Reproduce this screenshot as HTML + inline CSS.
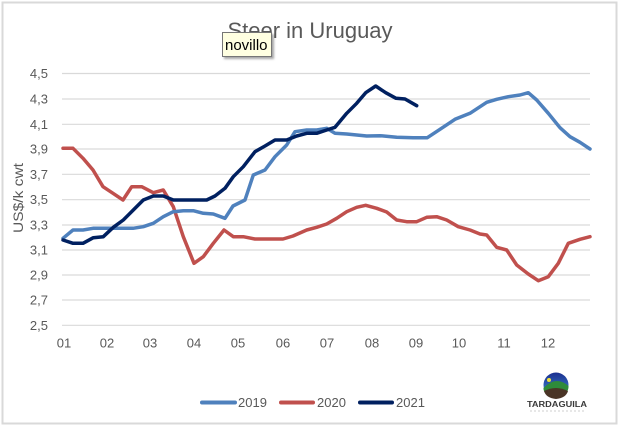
<!DOCTYPE html>
<html><head><meta charset="utf-8"><style>
html,body{margin:0;padding:0;background:#fff;}
svg{display:block;}
text{font-family:"Liberation Sans",Arial,sans-serif;}
</style></head><body>
<svg width="620" height="428" viewBox="0 0 620 428" xmlns="http://www.w3.org/2000/svg">
<defs>
<linearGradient id="sky" x1="0" y1="0" x2="0" y2="1">
<stop offset="0" stop-color="#1b2f8f"/><stop offset="1" stop-color="#3f8fd8"/>
</linearGradient>
<filter id="sh" x="-20%" y="-20%" width="150%" height="160%"><feDropShadow dx="2" dy="2" stdDeviation="1" flood-color="#000" flood-opacity="0.35"/></filter>
</defs>
<rect x="0" y="0" width="620" height="428" fill="#fff"/>
<rect x="2.5" y="2.5" width="614" height="421" fill="#fff" stroke="#d9d9d9" stroke-width="2"/>
<text x="310" y="38" text-anchor="middle" font-size="22" fill="#595959">Steer in Uruguay</text>
<g stroke="#d9d9d9" stroke-width="1.2">
<line x1="62" x2="590" y1="73.5" y2="73.5"/>
<line x1="62" x2="590" y1="99" y2="99"/>
<line x1="62" x2="590" y1="124.3" y2="124.3"/>
<line x1="62" x2="590" y1="149" y2="149"/>
<line x1="62" x2="590" y1="174.3" y2="174.3"/>
<line x1="62" x2="590" y1="199.7" y2="199.7"/>
<line x1="62" x2="590" y1="225" y2="225"/>
<line x1="62" x2="590" y1="250" y2="250"/>
<line x1="62" x2="590" y1="275" y2="275"/>
<line x1="62" x2="590" y1="300" y2="300"/>
<line x1="62" x2="590" y1="325.3" y2="325.3"/>
</g>
<g font-size="13" fill="#595959" text-anchor="end">
<text x="48" y="78">4,5</text>
<text x="48" y="103.5">4,3</text>
<text x="48" y="128.8">4,1</text>
<text x="48" y="153.5">3,9</text>
<text x="48" y="178.8">3,7</text>
<text x="48" y="204.2">3,5</text>
<text x="48" y="229.5">3,3</text>
<text x="48" y="254.5">3,1</text>
<text x="48" y="279.5">2,9</text>
<text x="48" y="304.5">2,7</text>
<text x="48" y="329.8">2,5</text>
</g>
<text transform="translate(23,198) rotate(-90)" text-anchor="middle" font-size="14" fill="#595959" textLength="70" lengthAdjust="spacingAndGlyphs">US$/k cwt</text>
<g font-size="13" fill="#595959" text-anchor="middle">
<text x="64" y="347.5">01</text>
<text x="107" y="347.5">02</text>
<text x="150" y="347.5">03</text>
<text x="194" y="347.5">04</text>
<text x="238" y="347.5">05</text>
<text x="283" y="347.5">06</text>
<text x="327" y="347.5">07</text>
<text x="372" y="347.5">08</text>
<text x="416" y="347.5">09</text>
<text x="459" y="347.5">10</text>
<text x="504" y="347.5">11</text>
<text x="548" y="347.5">12</text>
</g>
<g fill="none" stroke-width="3.5" stroke-linejoin="round" stroke-linecap="round">
<polyline stroke="#C0504D" points="63,148.3 73,148.3 83,158.3 93,170 103,186.7 113,193.3 123,200 131.7,186.7 141.7,186.7 153.3,192.7 163.3,190 173.3,206.7 183.3,236.7 194,263.3 203.3,256.7 213.3,243.3 224,230 233.3,236.7 243.3,236.7 255,239 283,239 293,236 306.7,230 316.7,227.3 326.7,224 336.7,218.3 346.7,211.7 356.7,207.3 365.7,205.3 376.7,208.3 386.7,212 396.7,220 406.7,221.7 416.7,221.7 426.7,217.3 436.7,216.7 446.7,220 458.3,226.7 470,230 480,234 486.7,235 496.7,247.3 506.7,250 516.7,265 528.3,274 538.3,280.7 548.3,276.7 558.3,263.3 568.3,243.3 580,239.3 590,236.7"/>
<polyline stroke="#4F81BD" points="63,238.3 73,230 83,230 93,228.3 133,228.3 143.3,226.7 153.3,223.3 163.3,216.7 173.3,211.7 183.3,210.7 193.3,210.7 203.3,213.3 213.3,214 225,218.3 233,206 245,200 253.3,175 265,170 275,156.7 286.7,145 295,131.7 306.7,130 316.7,130 326.7,128.3 335,133.3 346.7,134 366.7,136 380,135.7 396.7,137.3 413.3,137.7 427.3,137.7 440,129.3 455,119.3 470,113.3 486.7,102.3 496.7,99.3 508.3,96.7 520,95 528.3,92.7 536.7,100 548.3,113.3 560,127.7 570,136.7 580,142.3 590,149"/>
<polyline stroke="#002060" points="63,240 73,243.3 83,243.3 93.3,237.7 103.3,236.7 113.3,227.3 123.3,220 133.3,210 143.3,200 153.3,196 163.3,196 173.3,200 206.7,200 215,196 225,188.3 233.3,176.7 243.3,166.7 255,151.7 265,146 275,140 286.7,140 296.7,136 306.7,133.3 316.7,133.3 326.7,130 335,127.3 346.7,113.3 356.7,103.3 365.7,92.7 375.7,86 385.7,92.7 396,98.3 405,99 416.7,105.7"/>
</g>
<g stroke-width="4" stroke-linecap="round">
<line x1="202" y1="402.5" x2="235" y2="402.5" stroke="#4F81BD"/>
<line x1="281" y1="402.5" x2="313" y2="402.5" stroke="#C0504D"/>
<line x1="360" y1="402.5" x2="392" y2="402.5" stroke="#002060"/>
</g>
<g font-size="13" fill="#595959">
<text x="238" y="407">2019</text>
<text x="317" y="407">2020</text>
<text x="396" y="407">2021</text>
</g>
<g>
<circle cx="556" cy="385" r="12.5" fill="url(#sky)"/>
<path d="M543.5,388 Q556,375 568.5,386 Q569,395 556,397.5 Q543,395 543.5,388 Z" fill="#2e8b3a"/>
<path d="M544,391 Q556,385 568,391 Q566,398 556,399 Q546,398 544,391 Z" fill="#4a3526"/>
<circle cx="549" cy="380" r="2" fill="#f2e03a"/>
<text x="557" y="407" text-anchor="middle" font-size="8" font-weight="bold" fill="#3a3a3a" textLength="60" lengthAdjust="spacingAndGlyphs">TARDAGUILA</text>
<line x1="530" y1="411" x2="585" y2="411" stroke="#cfcfcf" stroke-width="1" stroke-dasharray="2,2"/>
</g>
<g filter="url(#sh)">
<rect x="222.5" y="32.5" width="49" height="24" fill="#ffffe1" stroke="#767676" stroke-width="1"/>
</g>
<text x="225" y="50" font-size="15" fill="#000">novillo</text>
</svg>
</body></html>
